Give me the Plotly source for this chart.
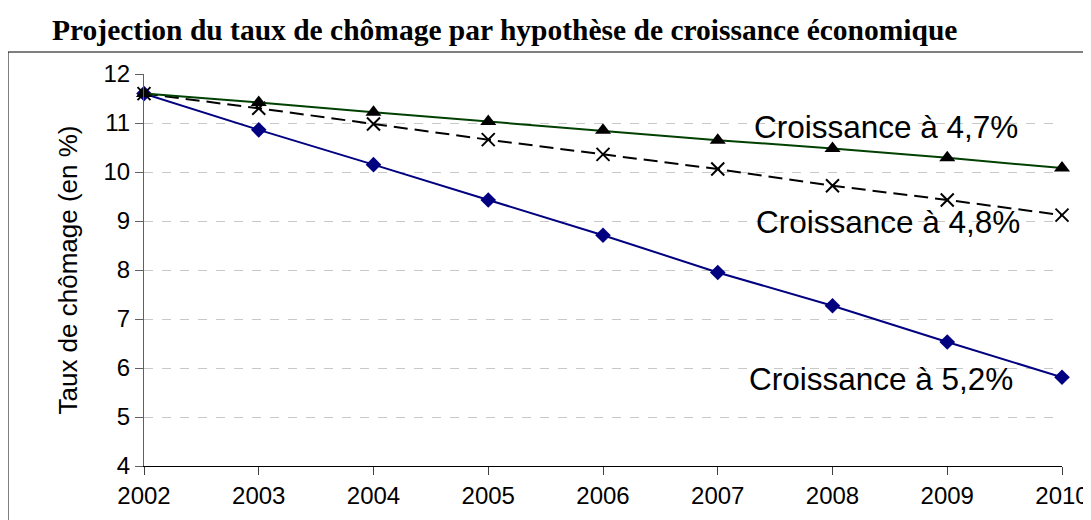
import plotly.graph_objects as go

years = [2002, 2003, 2004, 2005, 2006, 2007, 2008, 2009, 2010]
croissance_47 = [11.60, 11.42, 11.22, 11.03, 10.85, 10.65, 10.48, 10.29, 10.08]
croissance_48 = [11.60, 11.30, 10.98, 10.66, 10.36, 10.06, 9.72, 9.43, 9.12]
croissance_52 = [11.60, 10.86, 10.15, 9.43, 8.71, 7.95, 7.27, 6.53, 5.81]
y_ticks = [4, 5, 6, 7, 8, 9, 10, 11, 12]

labels = ["Croissance à 4,7%", "Croissance à 4,8%", "Croissance à 5,2%"]
title = "Projection du taux de chômage par hypothèse de croissance économique"
y_title = "Taux de chômage (en %)"

# the page body adds an 8px margin, so the figure is placed at (8, 8)
OFF = 8
W, H = 1091 - OFF, 520 - OFF
L, T = 144 - OFF, 74 - OFF
pw, ph = 918, 392
R = W - L - pw
B = H - T - ph

fig = go.Figure()
fig.add_trace(go.Scatter(
    x=years, y=croissance_52, mode="lines+markers",
    line=dict(color="#000080", width=2),
    marker=dict(symbol="diamond", size=12, color="#000080"),
    name=labels[2], cliponaxis=False))
fig.add_trace(go.Scatter(
    x=years, y=croissance_48, mode="lines+markers",
    line=dict(color="#000000", width=2, dash="14px,7px"),
    marker=dict(symbol="x-thin", size=13, line=dict(color="#000000", width=2)),
    name=labels[1], cliponaxis=False))
fig.add_trace(go.Scatter(
    x=years, y=croissance_47, mode="lines+markers",
    line=dict(color="#004000", width=2),
    marker=dict(symbol="triangle-up", size=14, color="#000000"),
    name=labels[0], cliponaxis=False))

ann_font = dict(family="Liberation Sans, Arial, sans-serif", size=31.5, color="#000000")
fig.add_annotation(x=2008.47, y=10.92, text=labels[0], showarrow=False,
                   font=ann_font, xanchor="center", yanchor="middle")
fig.add_annotation(x=2008.48, y=8.97, text=labels[1], showarrow=False,
                   font=ann_font, xanchor="center", yanchor="middle")
fig.add_annotation(x=2008.42, y=5.78, text=labels[2], showarrow=False,
                   font=ann_font, xanchor="center", yanchor="middle")

# chart frame (left edge at x=8, top at y=52 on the page)
fig.add_shape(type="rect", xref="paper", yref="paper",
              x0=(8 - OFF - L) / pw, x1=(W + 20 - L) / pw,
              y0=-(B + 30) / ph, y1=(H - B - (52 - OFF)) / ph,
              line=dict(color="#000000", width=1), layer="below")

fig.update_layout(
    width=W, height=H,
    margin=dict(l=L, r=R, t=T, b=B, pad=0, autoexpand=False),
    paper_bgcolor="white", plot_bgcolor="white",
    showlegend=False,
    title=dict(text=title, xref="container", yref="container",
               x=(52 - OFF) / W, xanchor="left", y=1 - (30 - OFF) / H, yanchor="middle",
               font=dict(family="Liberation Serif, Times New Roman, serif",
                         size=29.5, color="#000000", weight="bold")),
    font=dict(family="Liberation Sans, Arial, sans-serif", color="#000000"),
)
fig.update_xaxes(
    range=[2002, 2010], tickvals=years, ticktext=[str(y) for y in years],
    showgrid=False, zeroline=False, showline=True, linecolor="#000000", linewidth=1,
    ticks="outside", ticklen=8, tickcolor="#404040", tickwidth=1, automargin=False,
    tickfont=dict(size=24, family="Liberation Sans, Arial, sans-serif"))
fig.update_yaxes(
    range=[4, 12], tickvals=y_ticks, automargin=False,
    showgrid=True, gridcolor="#c8c8c8", griddash="dash", gridwidth=1,
    zeroline=False, showline=True, linecolor="#606060", linewidth=1,
    ticks="outside", ticklen=8, tickcolor="#606060", tickwidth=1,
    tickfont=dict(size=24, family="Liberation Sans, Arial, sans-serif"),
    title=dict(text=y_title, standoff=18,
               font=dict(size=26, family="Liberation Sans, Arial, sans-serif")))

fig.write_html("out.html")
